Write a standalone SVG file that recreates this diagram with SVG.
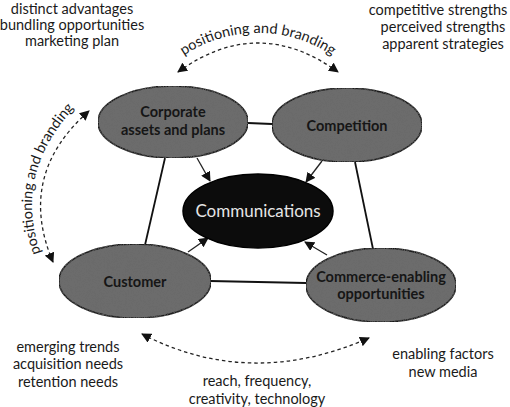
<svg xmlns="http://www.w3.org/2000/svg" width="510" height="407" viewBox="0 0 510 407">
<style>
  text { font-family: Lato, "Open Sans", "Liberation Sans", sans-serif; fill: #1a1a1a; }
  .note { font-size: 14.5px; text-anchor: middle; }
  .arc { font-size: 14.5px; }
  .lbl { font-size: 14.5px; font-weight: 700; text-anchor: middle; fill: #161616; }
  .node { fill: #6c6c6c; stroke: #1e1e1e; stroke-width: 1.6; }
  .line { stroke: #111; stroke-width: 1.8; fill: none; }
  .arrow { stroke: #222; stroke-width: 1.3; fill: none; }
  .dash { stroke: #222; stroke-width: 1.3; fill: none; stroke-dasharray: 3.5 3; }
</style>
<defs>
  <filter id="grain" x="0" y="0" width="100%" height="100%">
    <feTurbulence type="fractalNoise" baseFrequency="0.9" numOctaves="2" seed="3" result="n"/>
    <feColorMatrix in="n" type="matrix" values="0 0 0 0 0.15  0 0 0 0 0.15  0 0 0 0 0.15  0 0 0 1.6 -0.6" result="g"/>
    <feComposite in="g" in2="SourceGraphic" operator="in" result="gi"/>
    <feMerge><feMergeNode in="SourceGraphic"/><feMergeNode in="gi"/></feMerge>
  </filter>
  <marker id="tri" viewBox="0 0 10 10" refX="9" refY="5" markerWidth="10" markerHeight="10" markerUnits="userSpaceOnUse" orient="auto-start-reverse">
    <path d="M0,0 L10,5 L0,10 Z" fill="#111"/>
  </marker>
  <path id="topText" d="M 168,68 A 133,133 0 0 1 348,68"/>
  <path id="leftText" d="M 46,266 Q 5,175 84,98"/>
</defs>

<g id="connectors">
  <line class="line" x1="248" y1="123" x2="272" y2="124"/>
  <line class="line" x1="165" y1="158" x2="145" y2="245"/>
  <line class="line" x1="355" y1="162" x2="373" y2="249"/>
  <line class="line" x1="210" y1="281" x2="306" y2="283"/>
  <line class="arrow" x1="197" y1="158" x2="210" y2="181" marker-end="url(#tri)"/>
  <line class="arrow" x1="322" y1="161" x2="306" y2="182" marker-end="url(#tri)"/>
  <line class="arrow" x1="188" y1="252" x2="208" y2="238" marker-end="url(#tri)"/>
  <line class="arrow" x1="327" y1="255" x2="305" y2="242" marker-end="url(#tri)"/>
  <path class="dash" d="M 178,72 Q 258,14 338,72" marker-start="url(#tri)" marker-end="url(#tri)"/>
  <path class="dash" d="M 53,262 Q 16,175 89,111" marker-start="url(#tri)" marker-end="url(#tri)"/>
  <path class="dash" d="M 142,334 Q 250,390 369,338" marker-start="url(#tri)" marker-end="url(#tri)"/>
</g>

<g id="node-corporate">
  <ellipse class="node" cx="173" cy="122" rx="75" ry="36" filter="url(#grain)"/>
  <text class="lbl" x="173" y="117">Corporate</text>
  <text class="lbl" x="173" y="135">assets and plans</text>
</g>
<g id="node-competition">
  <ellipse class="node" cx="347" cy="125" rx="75" ry="37" filter="url(#grain)"/>
  <text class="lbl" x="347" y="131">Competition</text>
</g>
<g id="node-customer">
  <ellipse class="node" cx="135" cy="281" rx="76" ry="37" filter="url(#grain)"/>
  <text class="lbl" x="135" y="287">Customer</text>
</g>
<g id="node-commerce">
  <ellipse class="node" cx="381" cy="285" rx="75" ry="37" filter="url(#grain)"/>
  <text class="lbl" x="381" y="282">Commerce-enabling</text>
  <text class="lbl" x="381" y="299">opportunities</text>
</g>
<g id="node-communications">
  <ellipse cx="258" cy="211" rx="75" ry="37" fill="#0c0c0c" stroke="#000" stroke-width="1.5"/>
  <text x="258" y="217" font-size="17" text-anchor="middle" style="fill:#e6e6e6">Communications</text>
</g>

<g id="labels">
  <text class="arc"><textPath href="#topText" startOffset="50%" text-anchor="middle">positioning and branding</textPath></text>
  <text class="arc"><textPath href="#leftText" startOffset="50%" text-anchor="middle">positioning and branding</textPath></text>

  <text class="note" x="72" y="14">distinct advantages</text>
  <text class="note" x="72" y="30">bundling opportunities</text>
  <text class="note" x="72" y="46">marketing plan</text>

  <text class="note" x="438" y="15">competitive strengths</text>
  <text class="note" x="443" y="32">perceived strengths</text>
  <text class="note" x="443" y="49">apparent strategies</text>

  <text class="note" x="68" y="352">emerging trends</text>
  <text class="note" x="68" y="369">acquisition needs</text>
  <text class="note" x="68" y="387">retention needs</text>

  <text class="note" x="257" y="386">reach, frequency,</text>
  <text class="note" x="257" y="404">creativity, technology</text>

  <text class="note" x="443" y="359">enabling factors</text>
  <text class="note" x="443" y="377">new media</text>
</g>
</svg>
